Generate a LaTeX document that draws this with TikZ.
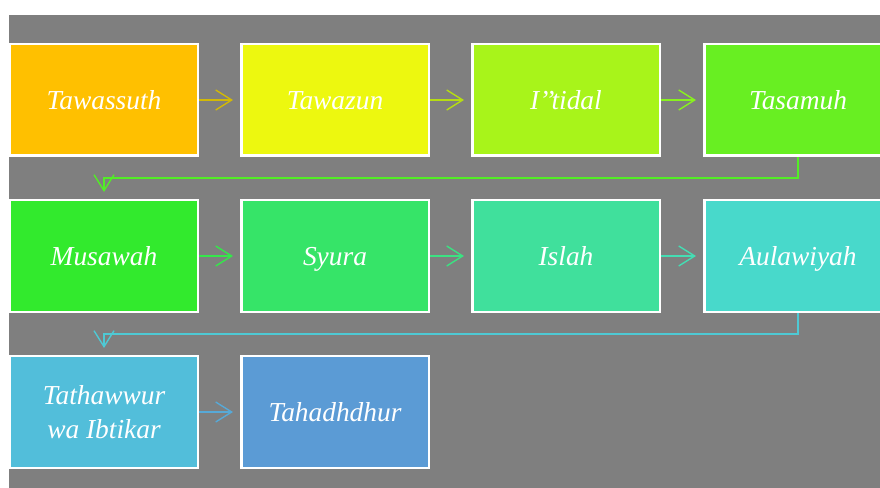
\documentclass[tikz,border=0pt]{standalone}
\usepackage{fontspec}
\setmainfont{Liberation Serif}
\usetikzlibrary{arrows.meta}
\definecolor{bg}{HTML}{7F7F7F}
\definecolor{c1}{HTML}{FFC000}
\definecolor{c2}{HTML}{EDF80F}
\definecolor{c3}{HTML}{A8F41A}
\definecolor{c4}{HTML}{68EF22}
\definecolor{c5}{HTML}{32EA2D}
\definecolor{c6}{HTML}{36E468}
\definecolor{c7}{HTML}{40E09C}
\definecolor{c8}{HTML}{48D9CB}
\definecolor{c9}{HTML}{52BEDA}
\definecolor{c10}{HTML}{5B9BD5}
\tikzset{
  box/.style={draw=white, line width=2.5bp, fill=#1, minimum width=187.5bp, minimum height=111.5bp,
    inner sep=0pt, text=white, align=center, font=\fontsize{27.5}{34}\selectfont\itshape},
  one/.style={text height=21bp, text depth=2bp},
  link/.style={draw=#1, line width=1.4bp, -{Straight Barb[length=16bp,width=20bp]}, shorten >=7bp}
}
\begin{document}
\begin{tikzpicture}[x=1bp,y=-1bp]
\useasboundingbox (0,0) rectangle (880,488);
\clip (0,0) rectangle (880,488);
\fill[bg] (9,15) rectangle (880,488);
\node[box=c1,one] (n1) at (104,100) {Tawassuth};
\node[box=c2,one] (n2) at (335,100) {Tawazun};
\node[box=c3,one] (n3) at (566,100) {I{'}{'}tidal};
\node[box=c4,one] (n4) at (798,100) {Tasamuh};
\node[box=c5,one] (n5) at (104,256) {Musawah};
\node[box=c6,one] (n6) at (335,256) {Syura};
\node[box=c7,one] (n7) at (566,256) {Islah};
\node[box=c8,one] (n8) at (798,256) {Aulawiyah};
\node[box=c9] (n9) at (104,412) {Tathawwur\\wa Ibtikar};
\node[box=c10,one] (n10) at (335,412) {Tahadhdhur};
\draw[link=c1!55!c2!85!black] (n1) -- (n2);
\draw[link=c2!50!c3!90!black] (n2) -- (n3);
\draw[link=c3!50!c4] (n3) -- (n4);
\draw[link=c4!60!c5] (n4.south) -- ++(0,21) -| (n5.north);
\draw[link=c5!50!c6] (n5) -- (n6);
\draw[link=c6!50!c7] (n6) -- (n7);
\draw[link=c7!50!c8] (n7) -- (n8);
\draw[link=c8!40!c9] (n8.south) -- ++(0,21) -| (n9.north);
\draw[link=c9!40!c10] (n9) -- (n10);
\end{tikzpicture}
\end{document}
